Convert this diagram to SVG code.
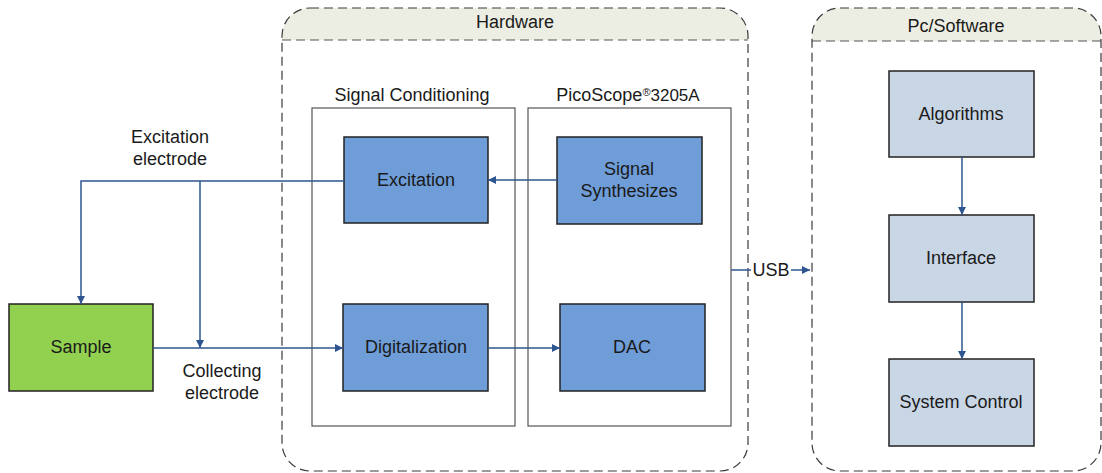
<svg xmlns="http://www.w3.org/2000/svg" width="1102" height="473" viewBox="0 0 1102 473">
<style>
text{font-family:"Liberation Sans",Arial,sans-serif;font-size:18px;fill:#1a1a1a;text-anchor:middle}
.cont{fill:none;stroke:#3a3a3a;stroke-width:1.2;stroke-dasharray:9,5}
.hdr{fill:#EDEEE3;stroke:none}
.hline{fill:none;stroke:#555;stroke-width:1.2;stroke-dasharray:9,5}
.frame{fill:#fff;stroke:#555;stroke-width:1.2}
.blue{fill:#6F9DD8;stroke:#222;stroke-width:1.5}
.green{fill:#92D050;stroke:#222;stroke-width:1.5}
.pale{fill:#C9D6E5;stroke:#222;stroke-width:1.5}
.conn{fill:none;stroke:#2F5590;stroke-width:1.5}
</style>
<defs>
<marker id="arr" viewBox="0 0 10 10" refX="10" refY="5" markerWidth="8" markerHeight="8" markerUnits="userSpaceOnUse" orient="auto">
<path d="M0,0 L10,5 L0,10 Z" fill="#2F5590"/>
</marker>
</defs>
<rect width="1102" height="473" fill="#fff"/>
<g id="hardware">
<path class="hdr" d="M282,40 V36 A28,28 0 0 1 310,8 H720 A28,28 0 0 1 748,36 V40 Z"/>
<line class="hline" x1="282" y1="40" x2="748" y2="40"/>
<rect class="cont" x="282" y="8" width="466" height="463" rx="28" ry="28"/>
<text x="515" y="28">Hardware</text>
</g>
<g id="pcsoftware">
<path class="hdr" d="M812,41 V36 A28,28 0 0 1 840,8 H1073 A28,28 0 0 1 1101,36 V41 Z"/>
<line class="hline" x1="812" y1="41" x2="1101" y2="41"/>
<rect class="cont" x="812" y="8" width="289" height="463" rx="28" ry="28"/>
<text x="956" y="32">Pc/Software</text>
</g>
<g id="signal-conditioning">
<rect class="frame" x="312" y="108" width="203" height="318"/>
<text x="412" y="101">Signal Conditioning</text>
</g>
<g id="picoscope">
<rect class="frame" x="528" y="108" width="203" height="318"/>
<text x="628" y="101">PicoScope<tspan font-size="11" dy="-5">®</tspan><tspan font-size="17" dy="5">3205A</tspan></text>
</g>
<g id="excitation">
<rect class="blue" x="344" y="137" width="144" height="86"/>
<text x="416" y="186">Excitation</text>
</g>
<g id="signal-synthesizes">
<rect class="blue" x="557" y="137" width="145" height="87"/>
<text x="629" y="175">Signal</text>
<text x="629" y="197">Synthesizes</text>
</g>
<g id="digitalization">
<rect class="blue" x="343" y="304" width="145" height="87"/>
<text x="416" y="353">Digitalization</text>
</g>
<g id="dac">
<rect class="blue" x="560" y="304" width="145" height="87"/>
<text x="632" y="353">DAC</text>
</g>
<g id="sample">
<rect class="green" x="9" y="304" width="144" height="87"/>
<text x="81" y="353">Sample</text>
</g>
<g id="algorithms">
<rect class="pale" x="889" y="71" width="145" height="86"/>
<text x="961" y="120">Algorithms</text>
</g>
<g id="interface">
<rect class="pale" x="889" y="215" width="145" height="87"/>
<text x="961" y="264">Interface</text>
</g>
<g id="system-control">
<rect class="pale" x="889" y="359" width="145" height="87"/>
<text x="961" y="408">System Control</text>
</g>
<g id="connectors">
<path class="conn" d="M557,180 H488" marker-end="url(#arr)"/>
<path class="conn" d="M344,181 H81 V304" marker-end="url(#arr)"/>
<path class="conn" d="M200,181 V348" marker-end="url(#arr)"/>
<path class="conn" d="M153,348 H343" marker-end="url(#arr)"/>
<path class="conn" d="M488,348 H560" marker-end="url(#arr)"/>
<path class="conn" d="M731,270 H751"/>
<path class="conn" d="M791,270 H810" marker-end="url(#arr)"/>
<path class="conn" d="M962,157 V215" marker-end="url(#arr)"/>
<path class="conn" d="M962,302 V359" marker-end="url(#arr)"/>
<text x="771" y="276">USB</text>
<text x="170" y="143">Excitation</text>
<text x="170" y="165">electrode</text>
<text x="222" y="377">Collecting</text>
<text x="222" y="399">electrode</text>
</g>
</svg>
